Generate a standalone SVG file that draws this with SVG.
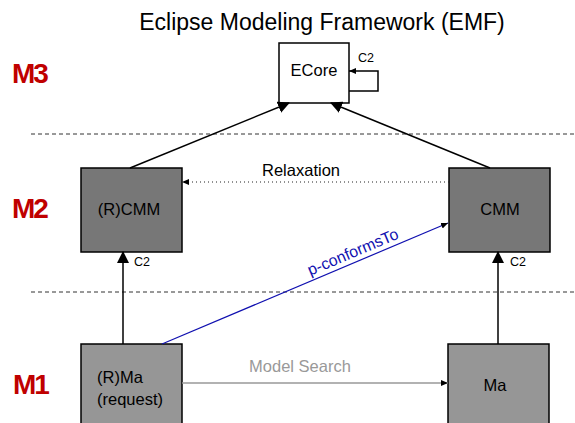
<svg xmlns="http://www.w3.org/2000/svg" width="575" height="423" viewBox="0 0 575 423">
<style>
text{font-family:"Liberation Sans",Arial,sans-serif;fill:#000}
.lvl{font-weight:bold;font-size:28px;letter-spacing:-2px;fill:#c00000}
.node{stroke:#000;stroke-width:1.5}
.lbl{font-size:16.5px}
.c2{font-size:12.5px}
.sep{stroke:#333;stroke-width:1;stroke-dasharray:4,3}
</style>
<defs>
<marker id="big" markerWidth="12" markerHeight="12" refX="11" refY="6" orient="auto" markerUnits="userSpaceOnUse">
<path d="M0,0 L12,6 L0,12 Z" fill="#000"/>
</marker>
<marker id="small" markerWidth="8" markerHeight="8" refX="7" refY="4" orient="auto" markerUnits="userSpaceOnUse">
<path d="M0,1 L7,4 L0,7 Z" fill="#000"/>
</marker>
</defs>
<text x="322" y="30" font-size="23" text-anchor="middle">Eclipse Modeling Framework (EMF)</text>
<text class="lvl" x="12" y="83">M3</text>
<text class="lvl" x="12" y="218">M2</text>
<text class="lvl" x="13" y="394">M1</text>
<line class="sep" x1="31" y1="134" x2="575" y2="134"/>
<line class="sep" x1="31" y1="292" x2="575" y2="292"/>
<g id="ecore">
<rect class="node" x="279" y="43" width="70" height="60" fill="#fff"/>
<text class="lbl" x="314" y="76" text-anchor="middle">ECore</text>
</g>
<g id="rcmm">
<rect class="node" x="81" y="168" width="101" height="84" fill="#777"/>
<text class="lbl" x="129" y="215" text-anchor="middle">(R)CMM</text>
</g>
<g id="cmm">
<rect class="node" x="449" y="168" width="101" height="84" fill="#777"/>
<text class="lbl" x="500" y="215" text-anchor="middle">CMM</text>
</g>
<g id="rma">
<rect class="node" x="81" y="344" width="101" height="90" fill="#969696"/>
<text class="lbl" x="97" y="383">(R)Ma</text>
<text class="lbl" x="97" y="405">(request)</text>
</g>
<g id="ma">
<rect class="node" x="448" y="344" width="101" height="90" fill="#969696"/>
<text class="lbl" x="495" y="391" text-anchor="middle">Ma</text>
</g>
<g id="connectors" fill="none">
<polyline points="349,91 378,91 378,71 349,71" stroke="#000" stroke-width="1.5" marker-end="url(#small)"/>
<text class="c2" x="358" y="62">C2</text>
<line x1="130" y1="168" x2="289" y2="103" stroke="#000" stroke-width="1.5" marker-end="url(#big)"/>
<line x1="490" y1="168" x2="331" y2="103" stroke="#000" stroke-width="1.5" marker-end="url(#big)"/>
<line x1="449" y1="182" x2="182" y2="182" stroke="#222" stroke-width="1" stroke-dasharray="1,3" marker-end="url(#small)"/>
<text class="lbl" x="301" y="176" text-anchor="middle">Relaxation</text>
<line x1="123" y1="344" x2="123" y2="252" stroke="#000" stroke-width="1.5" marker-end="url(#big)"/>
<text class="c2" x="134" y="266">C2</text>
<line x1="498" y1="344" x2="498" y2="252" stroke="#000" stroke-width="1.5" marker-end="url(#big)"/>
<text class="c2" x="510" y="266">C2</text>
<line x1="162" y1="344" x2="448" y2="223" stroke="#1010b0" stroke-width="1.2" marker-end="url(#small)"/>
<text x="355" y="257" font-size="16" text-anchor="middle" style="fill:#1010b0" transform="rotate(-22.9 355 257)">p-conformsTo</text>
<line x1="182" y1="383" x2="448" y2="383" stroke="#999" stroke-width="1.5" marker-end="url(#small)"/>
<text x="300" y="372" font-size="16.5" text-anchor="middle" style="fill:#999">Model Search</text>
</g>
</svg>
